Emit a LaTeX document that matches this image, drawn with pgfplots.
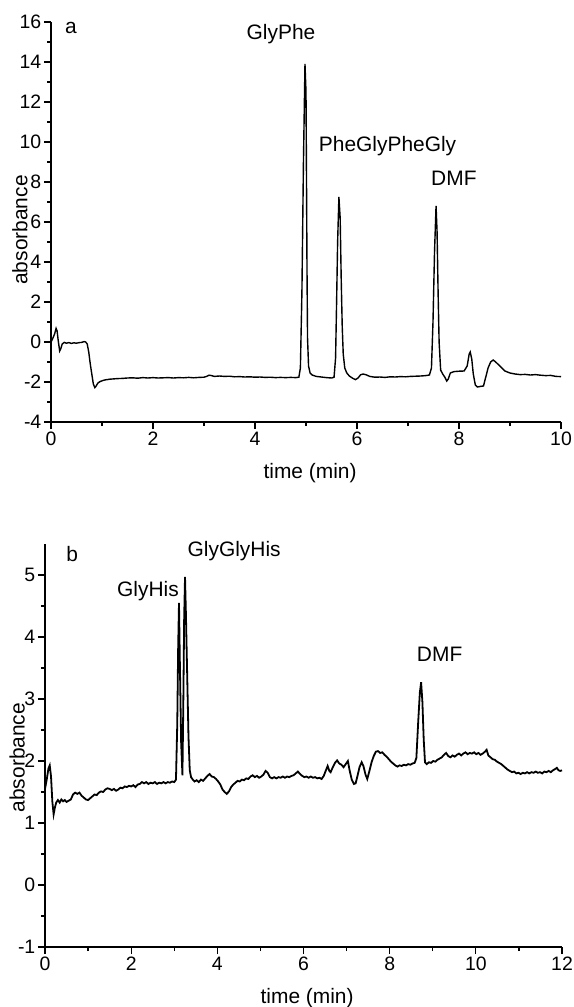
\documentclass[border=0pt]{standalone}
\usepackage{fontspec}
\setmainfont{Liberation Sans}
\usepackage{pgfplots}
\pgfplotsset{compat=1.18}

\pgfplotsset{
  chrom/.style={
    scale only axis,
    axis x line=bottom, axis y line=left,
    axis line style={-, line width=1.5bp, black},
    tick align=outside,
    major tick length=7bp, minor tick length=4bp,
    every tick/.style={black, line width=1.3bp},
    minor x tick num=1, minor y tick num=1,
    /pgf/number format/assume math mode=true,
    tick label style={font=\fontsize{19.5}{22}\selectfont},
    yticklabel style={inner sep=2.5bp},
    xticklabel style={inner sep=3bp},
    label style={font=\fontsize{21}{24}\selectfont},
    clip=false,
  }
}

\begin{document}
\begin{tikzpicture}
\useasboundingbox (0,0) rectangle (574bp,-1007bp);

% ---------- panel a ----------
\begin{axis}[chrom,
  at={(51bp,-422bp)}, anchor=south west,
  width=510bp, height=400bp,
  xmin=0, xmax=10, ymin=-4, ymax=16,
  xtick={0,2,...,10}, ytick={-4,-2,...,16},
  xlabel={time (min)}, ylabel={absorbance},
  xlabel style={at={(axis description cs:0.508,-0.1275)}, anchor=center},
  ylabel style={at={(axis description cs:-0.061,0.48)}, anchor=center},
]
\addplot[black, line width=1.4bp] coordinates {
(0.00,0.00) (0.03,0.15) (0.07,0.40) (0.10,0.68) (0.12,0.55) (0.14,0.10) (0.17,-0.45) (0.19,-0.35)
(0.22,-0.10) (0.26,-0.02) (0.30,-0.06) (0.35,-0.03) (0.40,-0.07) (0.45,-0.04) (0.50,-0.06) (0.55,-0.03)
(0.60,-0.02) (0.65,0.02) (0.68,0.00) (0.71,-0.10) (0.74,-0.50) (0.77,-1.10) (0.80,-1.60) (0.83,-2.10)
(0.86,-2.28) (0.88,-2.22) (0.92,-2.05) (0.96,-1.98) (1.00,-1.94) (1.05,-1.90) (1.10,-1.88) (1.15,-1.86)
(1.20,-1.85) (1.30,-1.83) (1.40,-1.82) (1.50,-1.80) (1.60,-1.79) (1.70,-1.81) (1.80,-1.78) (1.90,-1.80)
(2.00,-1.78) (2.10,-1.80) (2.20,-1.79) (2.30,-1.78) (2.40,-1.80) (2.50,-1.78) (2.60,-1.79) (2.70,-1.77)
(2.80,-1.79) (2.90,-1.77) (3.00,-1.76) (3.05,-1.72) (3.10,-1.66) (3.15,-1.68) (3.20,-1.72) (3.30,-1.70)
(3.40,-1.72) (3.50,-1.71) (3.60,-1.74) (3.70,-1.73) (3.80,-1.75) (3.90,-1.74) (4.00,-1.76) (4.10,-1.75)
(4.20,-1.77) (4.30,-1.76) (4.40,-1.78) (4.50,-1.77) (4.60,-1.78) (4.70,-1.77) (4.80,-1.78) (4.86,-1.76)
(4.89,-1.30) (4.92,2.50) (4.95,9.00) (4.98,13.90) (5.00,12.50) (5.01,8.00) (5.02,3.50) (5.03,0.20)
(5.05,-1.20) (5.08,-1.55) (5.12,-1.65) (5.20,-1.72) (5.30,-1.75) (5.40,-1.78) (5.50,-1.80) (5.55,-1.76)
(5.58,-0.80) (5.60,2.00) (5.62,5.00) (5.645,7.25) (5.67,6.20) (5.69,3.20) (5.71,0.80) (5.73,-0.60)
(5.76,-1.30) (5.80,-1.55) (5.85,-1.70) (5.92,-1.82) (5.97,-1.88) (6.02,-1.80) (6.07,-1.64) (6.12,-1.60)
(6.18,-1.64) (6.25,-1.72) (6.35,-1.76) (6.45,-1.75) (6.55,-1.77) (6.65,-1.74) (6.75,-1.75) (6.85,-1.73)
(6.95,-1.74) (7.05,-1.72) (7.15,-1.71) (7.25,-1.70) (7.35,-1.68) (7.42,-1.65) (7.46,-1.30) (7.49,1.00)
(7.52,4.50) (7.55,6.80) (7.57,5.50) (7.59,2.50) (7.61,0.00) (7.64,-1.40) (7.68,-1.60) (7.72,-1.75)
(7.76,-1.95) (7.79,-1.85) (7.83,-1.55) (7.90,-1.48) (8.00,-1.46) (8.10,-1.45) (8.16,-1.20) (8.20,-0.60)
(8.22,-0.50) (8.25,-0.85) (8.28,-1.60) (8.32,-2.15) (8.36,-2.25) (8.42,-2.22) (8.48,-2.20) (8.52,-1.80)
(8.57,-1.30) (8.62,-1.00) (8.67,-0.90) (8.72,-1.00) (8.80,-1.20) (8.90,-1.45) (9.00,-1.55) (9.10,-1.60)
(9.20,-1.63) (9.30,-1.62) (9.40,-1.65) (9.50,-1.63) (9.60,-1.66) (9.70,-1.68) (9.80,-1.67) (9.90,-1.72)
(10.00,-1.73)
};
\node[anchor=base, font=\fontsize{21}{24}\selectfont] at (axis cs:0.39,15.45) {a};
\node[anchor=base, font=\fontsize{21}{24}\selectfont] at (axis cs:4.51,15.15) {GlyPhe};
\node[anchor=base, font=\fontsize{21}{24}\selectfont] at (axis cs:6.60,9.52) {PheGlyPheGly};
\node[anchor=base, font=\fontsize{21}{24}\selectfont] at (axis cs:7.90,7.85) {DMF};
\end{axis}

% ---------- panel b ----------
\begin{axis}[chrom,
  at={(45bp,-947bp)}, anchor=south west,
  width=517bp, height=403bp,
  xmin=0, xmax=12, ymin=-1, ymax=5.5,
  xtick={0,2,...,12}, ytick={-1,0,...,5},
  xlabel={time (min)}, ylabel={absorbance},
  xlabel style={at={(axis description cs:0.507,-0.1266)}, anchor=center},
  ylabel style={at={(axis description cs:-0.054,0.47)}, anchor=center},
]
\addplot[black, line width=1.8bp] coordinates {
(0.00,1.55) (0.04,1.70) (0.08,1.88) (0.11,1.93) (0.14,1.75) (0.17,1.35) (0.20,1.14) (0.23,1.25)
(0.26,1.33) (0.30,1.37) (0.34,1.33) (0.38,1.38) (0.42,1.35) (0.46,1.37) (0.50,1.34) (0.55,1.36)
(0.60,1.38) (0.65,1.46) (0.70,1.49) (0.75,1.47) (0.80,1.49) (0.85,1.44) (0.90,1.41) (0.95,1.38)
(1.00,1.37) (1.05,1.40) (1.10,1.43) (1.15,1.46) (1.20,1.45) (1.25,1.49) (1.30,1.51) (1.35,1.50)
(1.40,1.54) (1.45,1.56) (1.50,1.55) (1.55,1.53) (1.60,1.55) (1.65,1.52) (1.70,1.54) (1.75,1.57)
(1.80,1.56) (1.85,1.59) (1.90,1.58) (1.95,1.60) (2.00,1.59) (2.05,1.61) (2.10,1.58) (2.15,1.62)
(2.20,1.63) (2.25,1.66) (2.30,1.64) (2.35,1.66) (2.40,1.63) (2.45,1.65) (2.50,1.64) (2.55,1.66)
(2.60,1.63) (2.65,1.65) (2.70,1.64) (2.75,1.66) (2.80,1.64) (2.85,1.66) (2.90,1.65) (2.95,1.67)
(3.00,1.66) (3.04,1.70) (3.07,2.60) (3.09,3.80) (3.11,4.55) (3.13,3.60) (3.16,2.30) (3.19,1.77)
(3.21,2.90) (3.23,4.30) (3.25,4.97) (3.27,4.40) (3.30,3.40) (3.33,2.40) (3.36,1.85) (3.39,1.74)
(3.43,1.70) (3.47,1.67) (3.52,1.69) (3.57,1.66) (3.62,1.70) (3.67,1.68) (3.72,1.72) (3.77,1.76)
(3.82,1.79) (3.87,1.75) (3.92,1.74) (3.97,1.71) (4.02,1.67) (4.07,1.62) (4.12,1.54) (4.17,1.50)
(4.22,1.47) (4.27,1.51) (4.32,1.58) (4.37,1.62) (4.42,1.65) (4.47,1.68) (4.52,1.67) (4.57,1.70)
(4.62,1.69) (4.67,1.72) (4.72,1.71) (4.77,1.75) (4.82,1.77) (4.87,1.74) (4.92,1.76) (4.97,1.73)
(5.02,1.75) (5.07,1.78) (5.12,1.84) (5.17,1.81) (5.22,1.74) (5.27,1.72) (5.32,1.74) (5.37,1.72)
(5.42,1.74) (5.47,1.73) (5.52,1.75) (5.57,1.73) (5.62,1.75) (5.67,1.74) (5.72,1.76) (5.77,1.77)
(5.82,1.80) (5.87,1.83) (5.92,1.79) (5.97,1.76) (6.02,1.74) (6.07,1.75) (6.12,1.73) (6.17,1.75)
(6.22,1.73) (6.27,1.74) (6.32,1.72) (6.37,1.73) (6.42,1.71) (6.47,1.76) (6.52,1.85) (6.56,1.92)
(6.60,1.84) (6.63,1.82) (6.68,1.90) (6.73,1.97) (6.78,2.01) (6.83,1.96) (6.88,1.94) (6.93,1.90)
(6.98,1.95) (7.03,2.00) (7.07,1.85) (7.12,1.70) (7.17,1.63) (7.21,1.64) (7.25,1.75) (7.30,1.90)
(7.35,1.98) (7.39,1.92) (7.44,1.78) (7.48,1.71) (7.53,1.84) (7.58,1.98) (7.63,2.08) (7.68,2.15)
(7.73,2.16) (7.78,2.13) (7.83,2.14) (7.88,2.10) (7.93,2.07) (7.98,2.03) (8.03,1.99) (8.08,1.96)
(8.13,1.93) (8.18,1.91) (8.23,1.93) (8.28,1.92) (8.33,1.94) (8.38,1.93) (8.43,1.95) (8.48,1.94)
(8.53,1.96) (8.58,1.97) (8.62,2.05) (8.66,2.60) (8.70,3.10) (8.73,3.27) (8.76,2.95) (8.79,2.35)
(8.82,1.98) (8.86,1.95) (8.91,1.98) (8.96,1.97) (9.01,2.00) (9.06,1.99) (9.11,2.02) (9.16,2.04)
(9.21,2.06) (9.26,2.10) (9.31,2.13) (9.36,2.08) (9.41,2.06) (9.46,2.09) (9.51,2.07) (9.56,2.10)
(9.61,2.12) (9.66,2.09) (9.71,2.12) (9.76,2.14) (9.81,2.11) (9.86,2.13) (9.91,2.12) (9.96,2.14)
(10.01,2.11) (10.06,2.13) (10.11,2.10) (10.16,2.12) (10.21,2.15) (10.25,2.18) (10.29,2.09) (10.34,2.06)
(10.39,2.03) (10.44,2.02) (10.49,1.99) (10.54,1.97) (10.59,1.95) (10.64,1.92) (10.69,1.89) (10.74,1.86)
(10.79,1.84) (10.84,1.82) (10.89,1.83) (10.94,1.80) (10.99,1.81) (11.04,1.79) (11.09,1.81) (11.14,1.80)
(11.19,1.82) (11.24,1.80) (11.29,1.82) (11.34,1.81) (11.39,1.83) (11.44,1.81) (11.49,1.82) (11.54,1.80)
(11.59,1.83) (11.64,1.82) (11.69,1.84) (11.74,1.82) (11.79,1.85) (11.84,1.87) (11.88,1.89) (11.92,1.85)
(11.96,1.84) (12.00,1.85)
};
\node[anchor=base, font=\fontsize{21}{24}\selectfont] at (axis cs:0.63,5.21) {b};
\node[anchor=base, font=\fontsize{21}{24}\selectfont] at (axis cs:4.39,5.30) {GlyGlyHis};
\node[anchor=base, font=\fontsize{21}{24}\selectfont] at (axis cs:2.39,4.65) {GlyHis};
\node[anchor=base, font=\fontsize{21}{24}\selectfont] at (axis cs:9.16,3.60) {DMF};
\end{axis}
\end{tikzpicture}
\end{document}
